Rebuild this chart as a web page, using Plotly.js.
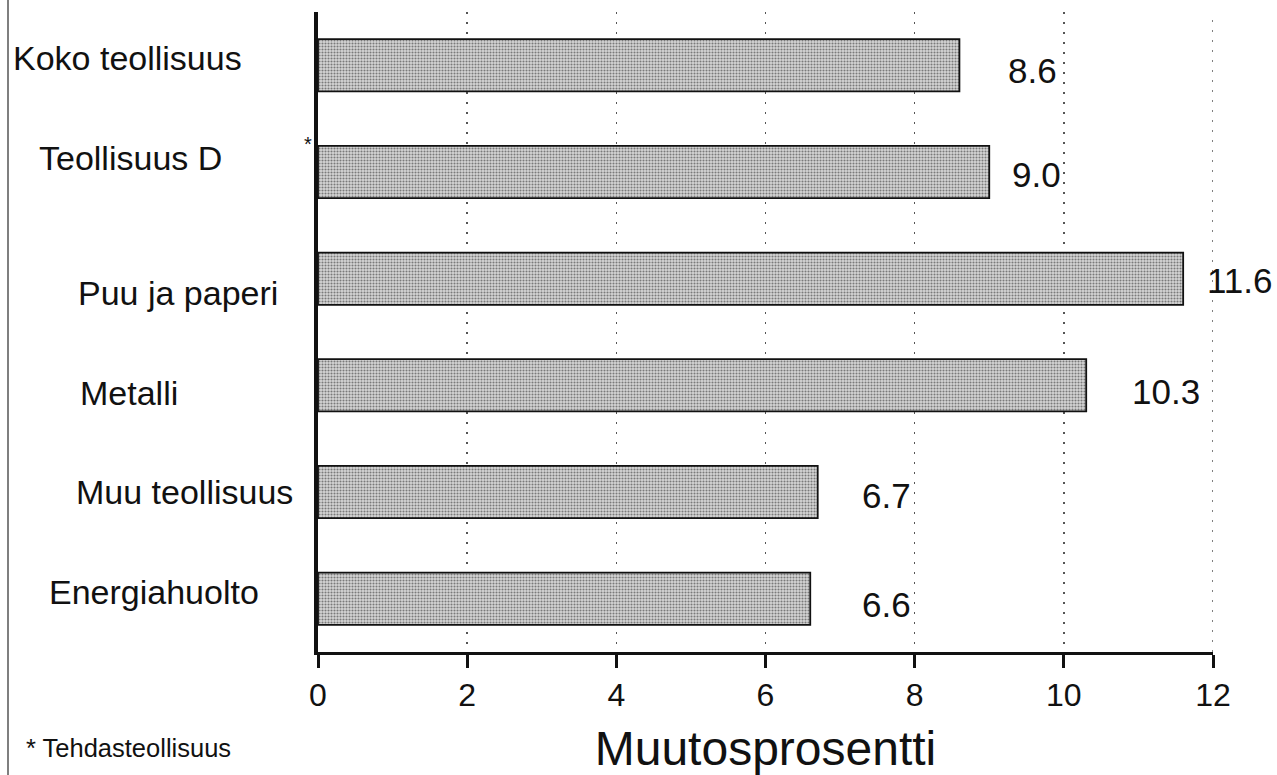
<!DOCTYPE html>
<html>
<head>
<meta charset="utf-8">
<script src="https://cdn.plot.ly/plotly-3.0.1.min.js"></script>
<style>
  html, body { margin: 0; padding: 0; background: #ffffff; }
  #chart { width: 1277px; height: 775px; }
</style>
</head>
<body>
<div id="chart"></div>
<script>
// ---- data ----
const categories = ['Koko teollisuus', 'Teollisuus D', 'Puu ja paperi', 'Metalli', 'Muu teollisuus', 'Energiahuolto'];
const values = [8.6, 9.0, 11.6, 10.3, 6.7, 6.6];
const valueLabels = ['8.6', '9.0', '11.6', '10.3', '6.7', '6.6'];
const xTickVals = [0, 2, 4, 6, 8, 10, 12];
const xTickText = ['0', '2', '4', '6', '8', '10', '12'];
const axisTitle = 'Muutosprosentti';
const footnote = '* Tehdasteollisuus';
const starredCategory = 'Teollisuus D';

// ---- style / placement (pixel offsets, not data) ----
const FONT = '"Liberation Sans", Arial, Helvetica, sans-serif';
const catXShift = [-307, -281, -242, -240, -244, -271];
const catYShift = [7, 14, -14, -8, 0, 7];
const valXShift = [47, 21, 22, 44, 42, 50];
const valYShift = [-5, -2, -2, -6, -3, -6];
const xMax = xTickVals[xTickVals.length - 1];

const trace = {
  type: 'bar',
  orientation: 'h',
  y: categories,
  x: values,
  width: 0.49,
  marker: {
    color: '#cccccc',
    line: { color: '#111111', width: 1.8 },
    pattern: { shape: '.', fgcolor: '#7a7a7a', bgcolor: '#d6d6d6', size: 3, solidity: 0.4 }
  },
  hoverinfo: 'none',
  showlegend: false
};

const annotations = [];
categories.forEach((c, i) => {
  annotations.push({
    text: c, xref: 'paper', x: 0, xanchor: 'left', xshift: catXShift[i],
    yref: 'y', y: c, yanchor: 'middle', yshift: catYShift[i],
    showarrow: false, font: { family: FONT, size: 34, color: '#111111' }
  });
  annotations.push({
    text: valueLabels[i], xref: 'x', x: values[i], xanchor: 'left', xshift: valXShift[i],
    yref: 'y', y: c, yanchor: 'middle', yshift: valYShift[i],
    showarrow: false, font: { family: FONT, size: 35, color: '#111111' }
  });
});
annotations.push({
  text: '*', xref: 'paper', x: 0, xanchor: 'right', xshift: -4,
  yref: 'y', y: starredCategory, yanchor: 'middle', yshift: 28,
  showarrow: false, font: { family: FONT, size: 20, color: '#111111' }
});
annotations.push({
  text: footnote, xref: 'paper', x: 0, xanchor: 'left', xshift: -294,
  yref: 'paper', y: 0, yanchor: 'middle', yshift: -96,
  showarrow: false, font: { family: FONT, size: 25.5, color: '#111111' }
});

const layout = {
  width: 1277, height: 775,
  margin: { l: 318, r: 64, t: 12, b: 123, pad: 0 },
  paper_bgcolor: '#ffffff', plot_bgcolor: '#ffffff',
  font: { family: FONT, color: '#111111' },
  bargap: 0.5,
  xaxis: {
    range: [0, xMax],
    tickmode: 'array', tickvals: xTickVals, ticktext: xTickText,
    ticks: 'outside', ticklen: 13, tickwidth: 3, tickcolor: '#111111',
    tickfont: { family: FONT, size: 32, color: '#111111' },
    showline: true, linewidth: 3, linecolor: '#111111',
    showgrid: true, gridcolor: '#555555', gridwidth: 1.5, griddash: '2px,8px',
    zeroline: false, fixedrange: true,
    title: { text: axisTitle, font: { family: FONT, size: 48, color: '#111111' }, standoff: 22 }
  },
  yaxis: {
    type: 'category',
    range: [5.5, -0.5],
    showticklabels: false, ticks: '',
    showline: true, linewidth: 4, linecolor: '#111111',
    showgrid: false, zeroline: false, fixedrange: true
  },
  shapes: [
    {
      type: 'line', xref: 'paper', yref: 'paper',
      x0: (8 - 318) / 895, x1: (8 - 318) / 895, y0: -123 / 640, y1: 1 + 12 / 640,
      line: { color: '#555555', width: 1.5 }
    },
    {
      // grid line at the last tick (Plotly omits it at the axis edge)
      type: 'line', xref: 'x', yref: 'paper', layer: 'below',
      x0: xMax, x1: xMax, y0: 0, y1: 1,
      line: { color: '#555555', width: 1.5, dash: '2px,8px' }
    }
  ],
  annotations: annotations
};

Plotly.newPlot('chart', [trace], layout, { displayModeBar: false, staticPlot: true });
</script>
</body>
</html>
